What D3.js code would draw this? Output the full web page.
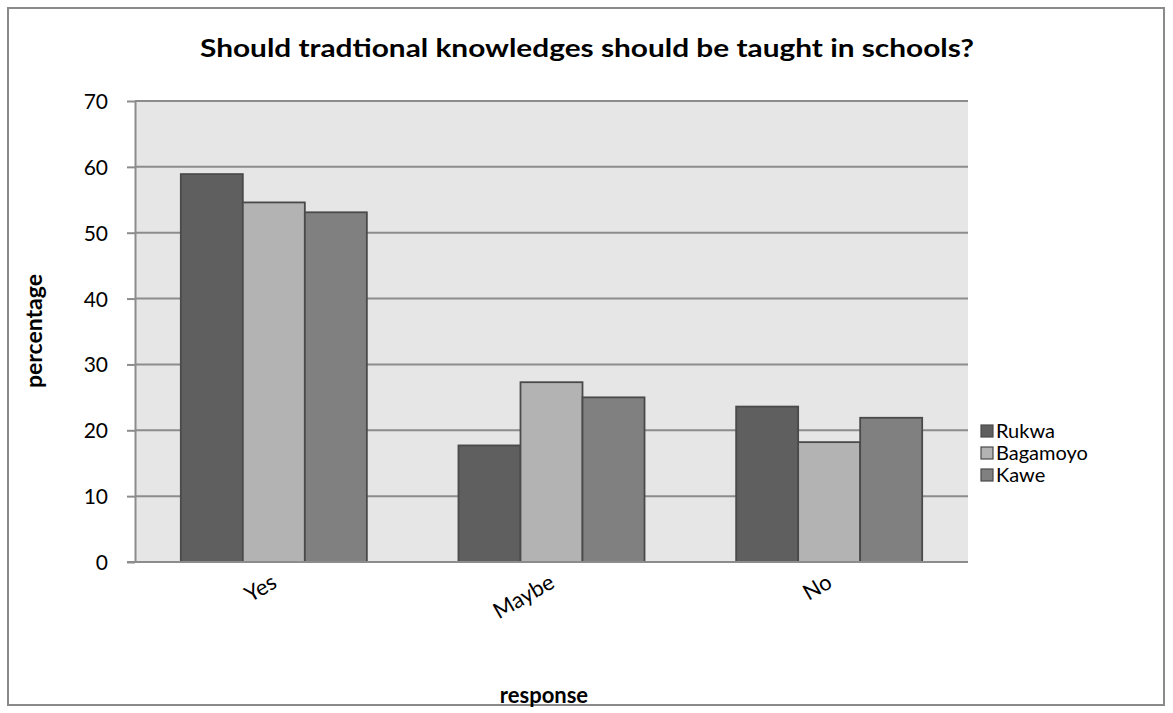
<!DOCTYPE html>
<html>
<head>
<meta charset="utf-8">
<script src="https://cdn.jsdelivr.net/npm/d3@7"></script>
<style>
  html, body { margin: 0; padding: 0; background: #fff; }
  svg { display: block; font-family: Lato, "Open Sans", sans-serif; }
</style>
</head>
<body>
<svg id="chart" width="1173" height="713"></svg>
<script>
// Survey responses, percentage per site
const categories = ["Yes", "Maybe", "No"];
const seriesNames = ["Rukwa", "Bagamoyo", "Kawe"];
const rukwa = [58.9, 17.7, 23.6];
const bagamoyo = [54.6, 27.3, 18.2];
const kawe = [53.1, 25.0, 21.9];
const yTicks = [0, 10, 20, 30, 40, 50, 60, 70];
const colors = ["#5f5f5f", "#b3b3b3", "#808080"];

const seriesValues = [rukwa, bagamoyo, kawe];
const rows = categories.map((c, i) => ({
  category: c,
  values: seriesNames.map((s, j) => ({ series: s, value: seriesValues[j][i] }))
}));

const svg = d3.select("#chart");
const W = 1173, H = 713;

// Outer frame
svg.append("rect")
  .attr("x", 8).attr("y", 8).attr("width", W - 17).attr("height", H - 16)
  .attr("fill", "#fff").attr("stroke", "#8a8a8a").attr("stroke-width", 2);

const plot = { left: 135, right: 968, top: 101, bottom: 562 };

const x0 = d3.scaleBand().domain(categories)
  .range([plot.left, plot.right]).paddingInner(0.33).paddingOuter(0.165);
const x1 = d3.scaleBand().domain(seriesNames).range([0, x0.bandwidth()]);
const y = d3.scaleLinear().domain([0, 70]).range([plot.bottom, plot.top]);
const color = d3.scaleOrdinal().domain(seriesNames).range(colors);

// Plot background
svg.append("rect")
  .attr("x", plot.left).attr("y", plot.top)
  .attr("width", plot.right - plot.left).attr("height", plot.bottom - plot.top)
  .attr("fill", "#e6e6e6");

// Gridlines
svg.append("g")
  .selectAll("line").data(yTicks.filter(d => d > 0)).join("line")
  .attr("x1", plot.left).attr("x2", plot.right)
  .attr("y1", d => y(d)).attr("y2", d => y(d))
  .attr("stroke", "#8c8c8c").attr("stroke-width", 2);

// Bars
const groups = svg.append("g").selectAll("g").data(rows).join("g")
  .attr("transform", d => `translate(${x0(d.category)},0)`);
groups.selectAll("rect").data(d => d.values).join("rect")
  .attr("x", d => x1(d.series))
  .attr("width", x1.bandwidth())
  .attr("y", d => y(d.value))
  .attr("height", d => y(0) - y(d.value))
  .attr("fill", d => color(d.series))
  .attr("stroke", "#4a4a4a").attr("stroke-width", 1.8);

// Y axis
const yAxis = svg.append("g")
  .attr("transform", `translate(${plot.left},0)`)
  .call(d3.axisLeft(y).tickValues(yTicks).tickSize(8).tickPadding(19).tickSizeOuter(0));
yAxis.select(".domain").attr("stroke", "#8c8c8c").attr("stroke-width", 2);
yAxis.selectAll(".tick line").attr("stroke", "#8c8c8c").attr("stroke-width", 2);
yAxis.selectAll(".tick text").attr("font-size", 21).attr("fill", "#000")
  .attr("font-family", "Lato, sans-serif").attr("dy", "0.36em");

// X axis baseline
const xAxis = svg.append("g")
  .attr("transform", `translate(0,${plot.bottom})`)
  .call(d3.axisBottom(x0).tickSize(0).tickSizeOuter(0));
xAxis.select(".domain").attr("stroke", "#8c8c8c").attr("stroke-width", 2)
  .attr("d", `M${plot.left - 8},0H${plot.right}`);
xAxis.selectAll(".tick text")
  .attr("font-size", 22).attr("fill", "#000")
  .attr("font-family", "Lato, sans-serif")
  .attr("text-anchor", "end")
  .attr("dy", 0)
  .attr("transform", "translate(3,22) rotate(-30)");

// Title
svg.append("text")
  .attr("x", 587).attr("y", 57)
  .attr("text-anchor", "middle")
  .attr("font-size", 25).attr("font-weight", "bold")
  .attr("textLength", 774).attr("lengthAdjust", "spacingAndGlyphs")
  .text("Should tradtional knowledges should be taught in schools?");

// Axis titles
svg.append("text")
  .attr("transform", "translate(42,331) rotate(-90)")
  .attr("text-anchor", "middle")
  .attr("font-size", 23).attr("font-weight", "bold")
  .text("percentage");
svg.append("text")
  .attr("x", 544).attr("y", 703)
  .attr("text-anchor", "middle")
  .attr("font-size", 22).attr("font-weight", "bold")
  .text("response");

// Legend
const legend = svg.append("g").attr("transform", "translate(981,431)");
const items = legend.selectAll("g").data(seriesNames).join("g")
  .attr("transform", (d, i) => `translate(0,${i * 22})`);
items.append("rect")
  .attr("x", 0).attr("y", -6).attr("width", 12).attr("height", 12)
  .attr("fill", d => color(d)).attr("stroke", "#4a4a4a").attr("stroke-width", 1.2);
items.append("text")
  .attr("x", 15).attr("y", 7)
  .attr("font-size", 20)
  .text(d => d);
</script>
</body>
</html>
